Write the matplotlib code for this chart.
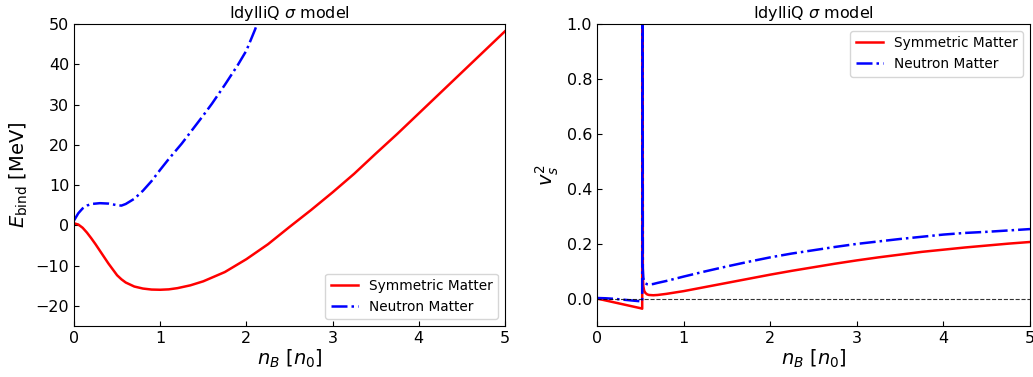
import matplotlib
matplotlib.use("Agg")
import matplotlib.pyplot as plt
import numpy as np

# ---- Left panel: binding energy ----
nb_sym = [0.0, 0.05, 0.1, 0.15, 0.2, 0.25, 0.3, 0.4, 0.5, 0.55, 0.6, 0.7, 0.8, 0.9, 1.0,
          1.1, 1.2, 1.35, 1.5, 1.75, 2.0, 2.25, 2.5, 2.75, 3.0, 3.25, 3.5, 3.75, 4.0,
          4.25, 4.5, 4.75, 5.0]
e_sym = [0.5, 0.2, -0.6, -1.8, -3.2, -4.7, -6.3, -9.5, -12.4, -13.4, -14.2, -15.2, -15.7,
         -15.95, -16.0, -15.9, -15.6, -14.9, -13.9, -11.6, -8.4, -4.7, -0.4, 3.8, 8.2,
         12.8, 17.8, 22.7, 27.8, 32.9, 38.0, 43.1, 48.2]

nb_neu = [0.0, 0.05, 0.1, 0.15, 0.2, 0.3, 0.4, 0.5, 0.55, 0.6, 0.7, 0.8, 0.9, 1.0,
          1.1, 1.25, 1.4, 1.5, 1.6, 1.75, 1.9, 2.0, 2.1, 2.15]
e_neu = [1.2, 3.0, 4.2, 4.9, 5.3, 5.5, 5.4, 5.0, 4.9, 5.3, 6.6, 8.6, 11.0, 13.8,
         16.5, 20.3, 24.5, 27.3, 30.2, 34.9, 39.8, 43.4, 48.6, 51.5]

# ---- Right panel: speed of sound squared ----
nb_sym_cs = [0.0, 0.1, 0.2, 0.3, 0.4, 0.5, 0.522, 0.524, 0.527, 0.529, 0.535, 0.545,
             0.56, 0.58, 0.6, 0.65, 0.7, 0.8, 0.9, 1.0, 1.25, 1.5, 1.75, 2.0, 2.25,
             2.5, 2.75, 3.0, 3.25, 3.5, 3.75, 4.0, 4.25, 4.5, 4.75, 5.0]
cs_sym = [0.0, -0.007, -0.014, -0.021, -0.028, -0.035, -0.037, 1.6, 1.6, 0.08, 0.045,
          0.028, 0.02, 0.015, 0.013, 0.012, 0.013, 0.017, 0.022, 0.027, 0.042, 0.057,
          0.072, 0.087, 0.101, 0.114, 0.127, 0.139, 0.150, 0.160, 0.170, 0.178, 0.186,
          0.193, 0.200, 0.206]

nb_neu_cs = [0.0, 0.1, 0.2, 0.3, 0.4, 0.5, 0.522, 0.524, 0.527, 0.529, 0.535, 0.545,
             0.56, 0.58, 0.6, 0.65, 0.7, 0.8, 0.9, 1.0, 1.25, 1.5, 1.75, 2.0, 2.25,
             2.5, 2.75, 3.0, 3.25, 3.5, 3.75, 4.0, 4.25, 4.5, 4.75, 5.0]
cs_neu = [0.002, 0.001, -0.001, -0.004, -0.007, -0.01, -0.011, 1.6, 1.6, 0.11, 0.075,
          0.062, 0.055, 0.052, 0.051, 0.053, 0.057, 0.064, 0.072, 0.080, 0.099, 0.117,
          0.134, 0.150, 0.164, 0.176, 0.188, 0.199, 0.208, 0.217, 0.225, 0.233, 0.239,
          0.243, 0.248, 0.253]

title = r"IdylliQ $\sigma$ model"
lbl_sym = "Symmetric Matter"
lbl_neu = "Neutron Matter"

W, H = 1033, 377
fig = plt.figure(figsize=(W / 100, H / 100), dpi=100)
ax1 = fig.add_axes([74 / W, (H - 326) / H, 431 / W, 302 / H])
ax2 = fig.add_axes([597 / W, (H - 326) / H, 433 / W, 302 / H])

ax1.plot(nb_sym, e_sym, color="red", lw=1.8, label=lbl_sym)
ax1.plot(nb_neu, e_neu, color="blue", lw=1.8, ls="-.", label=lbl_neu)
ax1.set_xlim(0, 5)
ax1.set_ylim(-25, 50)
ax1.set_yticks([-20, -10, 0, 10, 20, 30, 40, 50])
ax1.set_xlabel(r"$n_B\ [n_0]$", fontsize=14, labelpad=1)
ax1.set_ylabel(r"$E_{\rm bind}$ [MeV]", fontsize=14)
ax1.set_title(title, fontsize=11.5, pad=4)
ax1.legend(loc="lower right", fontsize=9.8)

ax2.plot(nb_sym_cs, cs_sym, color="red", lw=1.8, label=lbl_sym)
ax2.plot(nb_neu_cs, cs_neu, color="blue", lw=1.8, ls="-.", label=lbl_neu)
ax2.axhline(0, color="black", ls="--", lw=0.8, alpha=0.8)
ax2.set_xlim(0, 5)
ax2.set_ylim(-0.1, 1.0)
ax2.set_xlabel(r"$n_B\ [n_0]$", fontsize=14, labelpad=1)
ax2.set_ylabel(r"$v_s^2$", fontsize=14)
ax2.set_title(title, fontsize=11.5, pad=4)
ax2.legend(loc="upper right", fontsize=9.8)

for ax in (ax1, ax2):
    ax.tick_params(direction="in", labelsize=11.5)

fig.savefig("out.png", dpi=100)
